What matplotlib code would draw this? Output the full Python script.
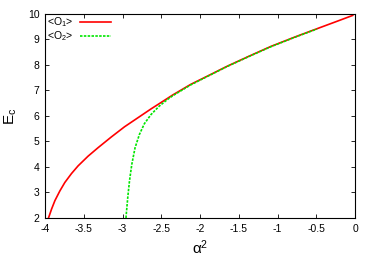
import numpy as np
import matplotlib.pyplot as plt

plt.rcParams['font.family'] = ['Liberation Sans', 'DejaVu Sans']
plt.rcParams['mathtext.default'] = 'regular'

# <O1> branch
a2_o1 = [-3.955, -3.949, -3.915, -3.872, -3.808, -3.744, -3.658, -3.573,
         -3.444, -3.316, -3.145, -2.974, -2.803, -2.632, -2.462, -2.355,
         -2.12, -1.90, -1.65, -1.37, -1.09, -0.78, -0.49, -0.25, -0.03]
ec_o1 = [2.0, 2.05, 2.35, 2.68, 3.06, 3.39, 3.74, 4.04,
         4.42, 4.75, 5.17, 5.57, 5.92, 6.27, 6.60, 6.81,
         7.23, 7.56, 7.94, 8.33, 8.71, 9.08, 9.41, 9.68, 9.93]

# <O2> branch
a2_o2 = [-2.955, -2.953, -2.932, -2.910, -2.880, -2.838, -2.782, -2.718,
         -2.632, -2.526, -2.419, -2.355, -2.12, -1.90, -1.65, -1.37,
         -1.09, -0.78, -0.49]
ec_o2 = [2.0, 2.09, 2.81, 3.45, 4.10, 4.75, 5.27, 5.69,
         6.05, 6.38, 6.64, 6.78, 7.21, 7.55, 7.93, 8.32,
         8.70, 9.07, 9.40]

xticks = [-4, -3.5, -3, -2.5, -2, -1.5, -1, -0.5, 0]
xticklabels = ['-4', '-3.5', '-3', '-2.5', '-2', '-1.5', '-1', '-0.5', '0']
yticks = [2, 3, 4, 5, 6, 7, 8, 9, 10]

fig = plt.figure(figsize=(3.74, 2.62), dpi=100)
ax = fig.add_axes([0.1203, 0.168, 0.829, 0.780])

ax.plot(a2_o1, ec_o1, color='#ff0000', lw=1.2, label='<O$_1$>')
ax.plot(a2_o2, ec_o2, color='#00e600', lw=1.2, linestyle=(0, (1.5, 0.8)),
        label='<O$_2$>')

ax.set_xlim(-4, 0)
ax.set_ylim(2, 10)
ax.set_xticks(xticks)
ax.set_xticklabels(xticklabels)
ax.set_yticks(yticks)
ax.tick_params(direction='in', top=True, right=True, length=3, width=0.6,
               labelsize=7.5, pad=4, colors='black')
for s in ax.spines.values():
    s.set_linewidth(0.8)

ax.set_xlabel('α$^2$', fontsize=11)
ax.set_ylabel('E$_c$', fontsize=11)
ax.xaxis.set_label_coords(0.5, -0.10)
ax.yaxis.set_label_coords(-0.085, 0.5)

ax.legend(loc='upper left', frameon=False, markerfirst=False, fontsize=7.5,
          handlelength=3.0, handletextpad=0.7, borderaxespad=0.05,
          borderpad=0.1, labelspacing=0.05)

fig.savefig('out.png', dpi=100)
